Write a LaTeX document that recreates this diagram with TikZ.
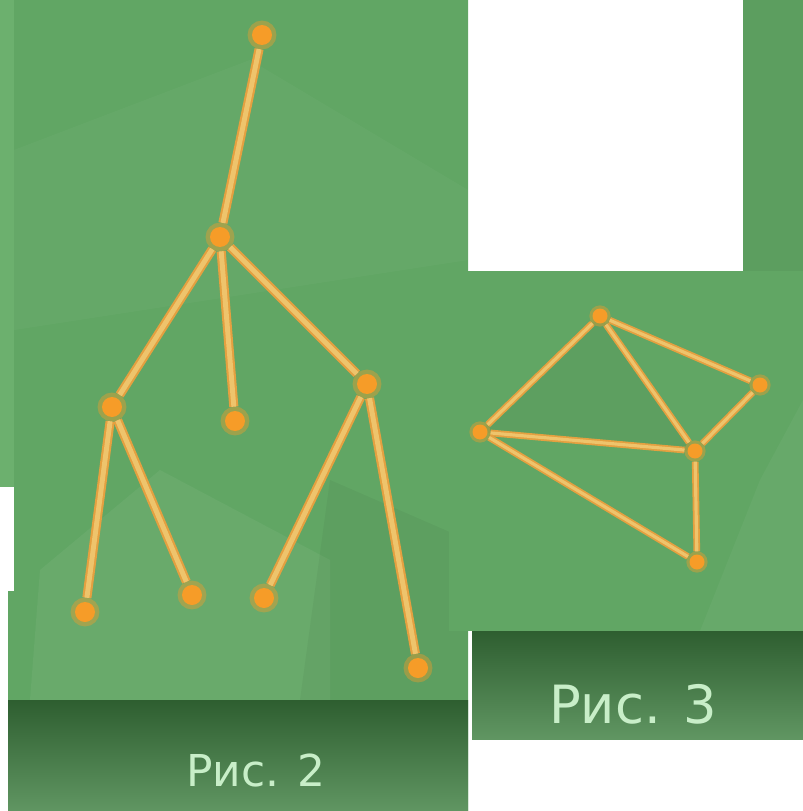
\documentclass[tikz,border=0pt]{standalone}
\usepackage{fontspec}
\setmainfont{DejaVu Sans}
\definecolor{panelgreen}{RGB}{97,166,100}
\definecolor{stripgreen}{RGB}{108,176,110}
\definecolor{capdark}{RGB}{46,94,48}
\definecolor{caplight}{RGB}{96,150,98}
\definecolor{captext}{RGB}{200,238,200}
\definecolor{dotorange}{RGB}{246,156,40}
\definecolor{edgeorange}{RGB}{228,160,64}
\definecolor{edgeyellow}{RGB}{238,196,108}
\begin{document}
\begin{tikzpicture}[x=0.02cm, y=-0.02cm,
    dot/.style={circle, fill=dotorange, draw=dotorange, draw opacity=0.4, line width=5pt, minimum size=0.4cm, inner sep=0pt},
    smalldot/.style={dot, minimum size=0.3cm, line width=3.5pt},
    edge/.style={draw=edgeorange, double=edgeyellow, double distance=2.8pt, line width=1.2pt},
    thinedge/.style={edge, double distance=1.8pt, line width=1pt},
    caption/.style={text=captext, font=\fontsize{25}{30}\selectfont}]
    \useasboundingbox (0,0) rectangle (803,811);

    % panels behind
    \fill[stripgreen] (0,0) rectangle (14,487);
    \fill[panelgreen!95!black] (743,0) rectangle (803,271);
    \fill[panelgreen] (14,0) -- (468,0) -- (468,811) -- (8,811) -- (8,591) -- (14,591) -- cycle;
    \fill[white, opacity=0.05] (30,700) -- (40,570) -- (160,470) -- (330,560) -- (330,700) -- cycle;
    \fill[black, opacity=0.04] (330,480) -- (468,540) -- (468,700) -- (300,700) -- cycle;
    \fill[white, opacity=0.03] (14,150) -- (250,60) -- (468,190) -- (468,260) -- (14,330) -- cycle;
    \shade[top color=capdark, bottom color=caplight] (8,700) rectangle (468,811);
    \node[caption] (cap2) at (256,771) {Рис. 2};

    % tree, fig. 2
    \node[dot] (top) at (262,35) {};
    \node[dot] (mid) at (220,237) {};
    \node[dot] (lft) at (112,407) {};
    \node[dot] (ctr) at (235,421) {};
    \node[dot] (rgt) at (367,384) {};
    \node[dot] (l1) at (85,612) {};
    \node[dot] (l2) at (192,595) {};
    \node[dot] (l3) at (264,598) {};
    \node[dot] (l4) at (418,668) {};
    \draw[edge] (top) -- (mid);
    \draw[edge] (mid) -- (lft);
    \draw[edge] (mid) -- (ctr);
    \draw[edge] (mid) -- (rgt);
    \draw[edge] (lft) -- (l1);
    \draw[edge] (lft) -- (l2);
    \draw[edge] (rgt) -- (l3);
    \draw[edge] (rgt) -- (l4);

    % fig. 3
    \fill[panelgreen] (449,271) rectangle (803,631);
    \fill[black, opacity=0.04] (480,432) -- (600,316) -- (695,452) -- cycle;
    \fill[white, opacity=0.04] (700,631) -- (760,480) -- (803,400) -- (803,631) -- cycle;
    \shade[top color=capdark, bottom color=caplight] (472,631) rectangle (803,739);
    \node[caption, font=\fontsize{30}{34}\selectfont] (cap3) at (633,704) {Рис. 3};

    \node[smalldot] (a) at (600,316) {};
    \node[smalldot] (b) at (760,385) {};
    \node[smalldot] (c) at (480,432) {};
    \node[smalldot] (d) at (695,451) {};
    \node[smalldot] (e) at (697,562) {};
    \draw[thinedge] (a) -- (b);
    \draw[thinedge] (a) -- (c);
    \draw[thinedge] (a) -- (d);
    \draw[thinedge] (c) -- (d);
    \draw[thinedge] (b) -- (d);
    \draw[thinedge] (d) -- (e);
    \draw[thinedge] (c) -- (e);
\end{tikzpicture}
\end{document}
